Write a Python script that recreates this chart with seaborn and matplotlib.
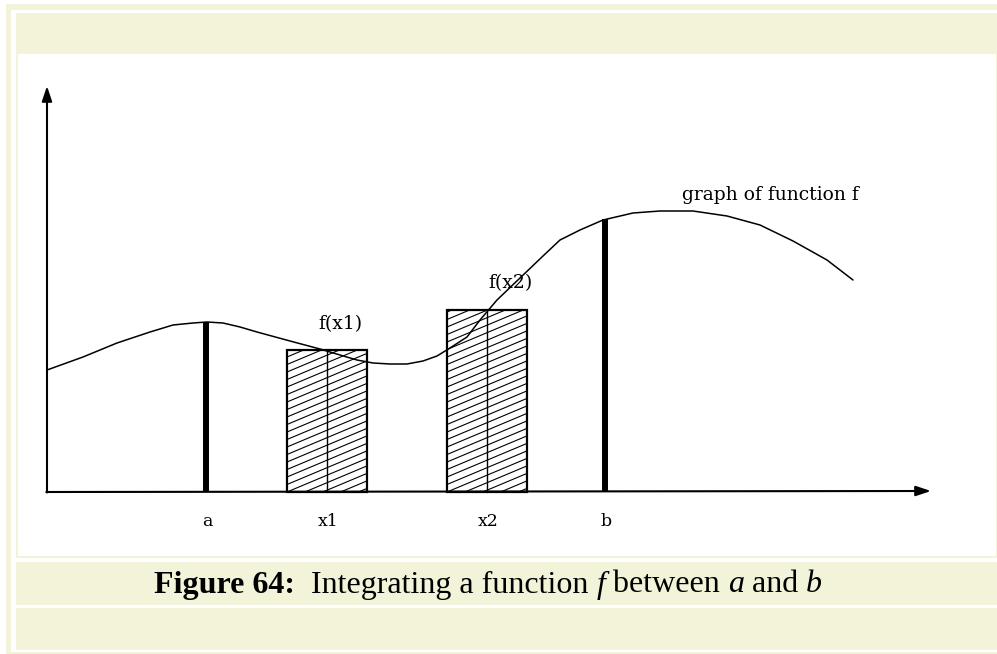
import numpy as np
import matplotlib
matplotlib.use("Agg")
import matplotlib.pyplot as plt
from matplotlib.patches import Rectangle
import seaborn as sns

# Curve of f (origin at the axes corner, pixel units)
curve_x = [0, 36, 70, 103, 126, 146, 160, 176, 193, 210, 243, 273, 293, 310, 326,
           343, 360, 376, 390, 403, 420, 433, 450, 473, 496, 513, 533, 556, 586,
           613, 646, 680, 713, 746, 780, 806]
curve_y = [122, 135, 149, 160, 167, 169, 170, 169, 165, 160, 151, 143, 137, 132, 129,
           128, 128, 131, 136, 144, 155, 172, 192, 214, 236, 252, 262, 272, 279,
           281, 281, 276, 267, 251, 232, 212]

# integration limits and their heights
limit_labels = ["a", "b"]
limit_x = [159, 558]
limit_y = [170, 273]

# sample points (hatched rectangles)
sample_labels = ["x1", "x2"]
sample_x = [280, 440]
sample_y = [142, 182]
value_labels = ["f(x1)", "f(x2)"]

W, H = 997, 654
BEIGE = "#f3f3da"
sns.set_style("white")
plt.rcParams["font.family"] = ["DejaVu Serif"]
plt.rcParams["text.color"] = "black"

fig = plt.figure(figsize=(W / 100, H / 100), dpi=100)
fig.patch.set_facecolor("white")


def px_rect(x0, y0, x1, y1, color):
    fig.patches.append(Rectangle((x0 / W, 1 - y1 / H), (x1 - x0) / W, (y1 - y0) / H,
                                 transform=fig.transFigure, facecolor=color,
                                 edgecolor="none", zorder=-5))


# page frame (table cells)
px_rect(6, 4, 1005, 660, BEIGE)
px_rect(11, 10, 1005, 652, "white")
px_rect(16, 13, 1005, 53, BEIGE)
px_rect(16, 53, 1005, 558, BEIGE)
px_rect(18, 54, 996, 556, "white")
px_rect(16, 562, 1005, 605, BEIGE)
px_rect(16, 608, 1005, 650, BEIGE)

ax = fig.add_axes([0, 0, 1, 1])
ax.set_zorder(1)
ax.patch.set_alpha(0)

# rectangles at the sample points
sns.barplot(x=sample_x, y=sample_y, native_scale=True, width=0.5, color="white",
            edgecolor="black", linewidth=1.6, saturation=1, ax=ax, zorder=2)

bar_w = 80
for xs, ys in zip(sample_x, sample_y):
    clip = Rectangle((xs - bar_w / 2, 0), bar_w, ys, transform=ax.transData,
                     facecolor="none", edgecolor="none")
    ax.add_patch(clip)
    x0, x1 = xs - bar_w / 2, xs + bar_w / 2
    for c in np.arange(-60, ys + 10, 7.5):
        ln, = ax.plot([x0, x1], [c, c + 0.42 * bar_w], color="black", lw=0.8, zorder=3)
        ln.set_clip_path(clip)
    ax.plot([xs, xs], [0, ys], color="black", lw=1.0, zorder=4)

# curve
sns.lineplot(x=curve_x, y=curve_y, sort=False, estimator=None, color="black",
             lw=1.1, ax=ax, zorder=5)

# thick limit lines
ax.vlines(limit_x, 0, limit_y, color="black", lw=4.3, zorder=6)

# axes with arrows
ax.annotate("", xy=(0, 406), xytext=(0, -0.5),
            arrowprops=dict(arrowstyle="-|>,head_length=0.9,head_width=0.3",
                            color="black", lw=1.5, shrinkA=0, shrinkB=0), zorder=7)
ax.annotate("", xy=(884, 1), xytext=(-0.7, 0),
            arrowprops=dict(arrowstyle="-|>,head_length=0.9,head_width=0.3",
                            color="black", lw=1.5, shrinkA=0, shrinkB=0), zorder=7)

# labels
for lab, xv in zip(limit_labels + sample_labels, limit_x + sample_x):
    ax.text(xv + 1, -29, lab, ha="center", va="center", fontsize=12.5, color="black")
ax.text(sample_x[0] + 13, 168, value_labels[0], ha="center", va="center", fontsize=13.5,
        color="black")
ax.text(sample_x[1] + 23, 209, value_labels[1], ha="center", va="center", fontsize=13.5,
        color="black")
ax.text(635, 297, "graph of function f", ha="left", va="center", fontsize=13.5,
        color="black")

ax.set_xlim(-47, W - 47)
ax.set_ylim(492 - H, 492)
ax.axis("off")

# caption with mixed styles
pieces = [("Figure 64:", "bold", "normal"), ("  Integrating a function ", "normal", "normal"),
          ("f", "normal", "italic"), (" between ", "normal", "normal"),
          ("a", "normal", "italic"), (" and ", "normal", "normal"), ("b", "normal", "italic")]
renderer = fig.canvas.get_renderer()
texts = []
for s, wt, st in pieces:
    t = fig.text(0, 1 - 585 / H, s, fontsize=23, fontweight=wt, fontstyle=st,
                 family="Liberation Serif", va="center", ha="left", color="black")
    texts.append(t)
widths = [t.get_window_extent(renderer).width for t in texts]
start = 488 - sum(widths) / 2
for t, w in zip(texts, widths):
    t.set_x(start / W)
    start += w

fig.savefig("out.png", dpi=100)
